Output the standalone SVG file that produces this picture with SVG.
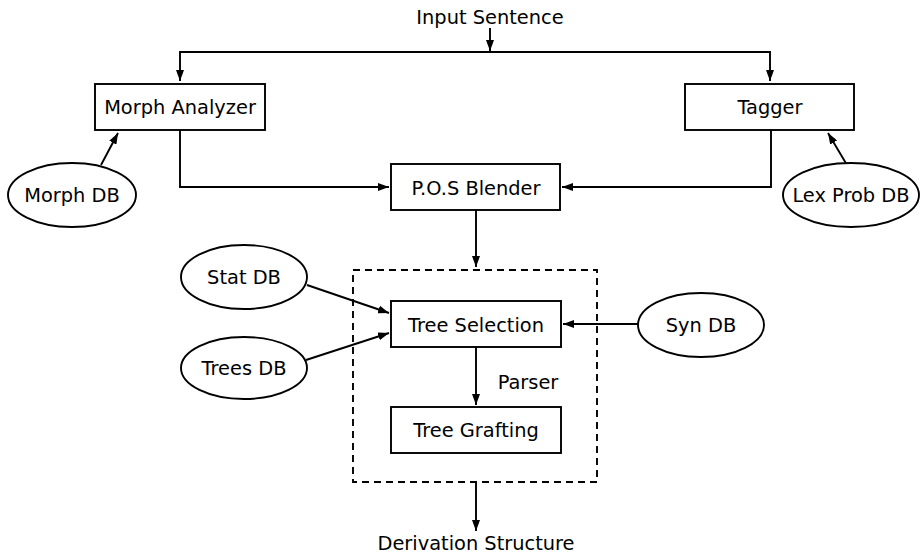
<svg xmlns="http://www.w3.org/2000/svg" width="921" height="556" viewBox="0 0 921 556">
  <style>
    .box { fill: #fff; stroke: #000; stroke-width: 1.9; }
    .db { fill: #fff; stroke: #000; stroke-width: 1.9; }
    .lbl { font-family: "DejaVu Sans", sans-serif; font-size: 19.4px; fill: #000; text-anchor: middle; }
    .edge { fill: none; stroke: #000; stroke-width: 1.9; marker-end: url(#arrow); }
    .group { fill: none; stroke: #000; stroke-width: 1.9; stroke-dasharray: 7 5; }
  </style>
  <defs>
    <marker id="arrow" viewBox="0 0 11 8" refX="11" refY="4" markerWidth="11" markerHeight="8" markerUnits="userSpaceOnUse" orient="auto">
      <path d="M0,0 L11,4 L0,8 z" fill="#000"/>
    </marker>
  </defs>

  <!-- parser boundary -->
  <rect id="parser" class="group" x="353" y="270" width="244" height="212"/>
  <text class="lbl" x="528" y="389">Parser</text>

  <g id="connectors">
    <line class="edge" x1="490" y1="28" x2="490" y2="51"/>
    <polyline class="edge" points="490,52 180,52 180,81"/>
    <polyline class="edge" points="490,52 770,52 770,81"/>
    <line class="edge" x1="101" y1="165" x2="118" y2="133"/>
    <line class="edge" x1="847" y1="165" x2="828" y2="133"/>
    <polyline class="edge" points="180,130 180,187 389,187"/>
    <polyline class="edge" points="771,130 771,187 562,187"/>
    <line class="edge" x1="476" y1="210" x2="476" y2="267"/>
    <line class="edge" x1="307" y1="285" x2="389" y2="313"/>
    <line class="edge" x1="306" y1="360" x2="389" y2="333"/>
    <line class="edge" x1="638" y1="324" x2="563" y2="324"/>
    <line class="edge" x1="476" y1="347" x2="476" y2="405"/>
    <line class="edge" x1="476" y1="482" x2="476" y2="531"/>
  </g>

  <text class="lbl" x="490" y="24">Input Sentence</text>
  <text class="lbl" x="476" y="550">Derivation Structure</text>

  <g id="morph-analyzer">
    <rect class="box" x="95" y="84" width="170" height="46"/>
    <text class="lbl" x="180" y="114">Morph Analyzer</text>
  </g>
  <g id="tagger">
    <rect class="box" x="685" y="84" width="169" height="46"/>
    <text class="lbl" x="770" y="114">Tagger</text>
  </g>
  <g id="morph-db">
    <ellipse class="db" cx="72" cy="195" rx="64" ry="32"/>
    <text class="lbl" x="72" y="202">Morph DB</text>
  </g>
  <g id="lex-prob-db">
    <ellipse class="db" cx="851" cy="195" rx="68" ry="32"/>
    <text class="lbl" x="851" y="202">Lex Prob DB</text>
  </g>
  <g id="pos-blender">
    <rect class="box" x="391" y="164" width="169" height="46"/>
    <text class="lbl" x="476" y="195">P.O.S Blender</text>
  </g>
  <g id="stat-db">
    <ellipse class="db" cx="244" cy="277" rx="63" ry="32"/>
    <text class="lbl" x="244" y="284">Stat DB</text>
  </g>
  <g id="trees-db">
    <ellipse class="db" cx="244" cy="368" rx="63" ry="31"/>
    <text class="lbl" x="244" y="375">Trees DB</text>
  </g>
  <g id="syn-db">
    <ellipse class="db" cx="701" cy="325" rx="63" ry="32"/>
    <text class="lbl" x="701" y="332">Syn DB</text>
  </g>
  <g id="tree-selection">
    <rect class="box" x="391" y="301" width="170" height="46"/>
    <text class="lbl" x="476" y="332">Tree Selection</text>
  </g>
  <g id="tree-grafting">
    <rect class="box" x="391" y="407" width="170" height="46"/>
    <text class="lbl" x="476" y="437">Tree Grafting</text>
  </g>
</svg>
